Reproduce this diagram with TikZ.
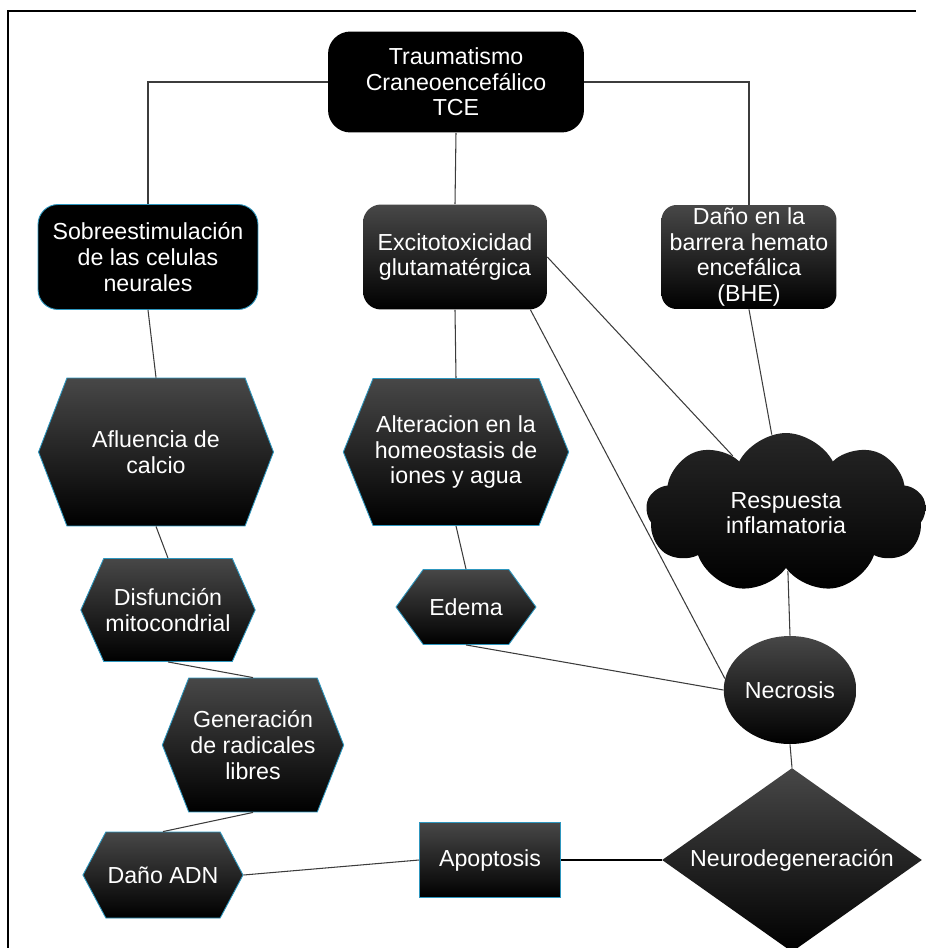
\documentclass[tikz,border=0pt]{standalone}
\usepackage{fontspec}
\setsansfont{Liberation Sans}
\usetikzlibrary{shapes.geometric,shapes.symbols}
\definecolor{edgeblue}{RGB}{45,150,190}
\definecolor{wire}{RGB}{60,60,60}

\begin{document}
\begin{tikzpicture}[
  x=0.02cm, y=-0.02cm,
  txt/.style={text=white, align=center, inner sep=1pt,
              font=\sffamily\fontsize{13.2}{14.6}\selectfont},
  blackbox/.style={txt, rectangle, rounded corners=0.45cm, fill=black},
  shadebox/.style={txt, rectangle, rounded corners=0.36cm,
                   top color=black!72, bottom color=black},
  hexa/.style={txt, signal, signal to=east and west, signal pointer angle=#1,
               draw=edgeblue, line width=0.5pt, top color=black!72, bottom color=black},
  link/.style={draw=wire, line width=0.6pt}
]
\useasboundingbox (0,0) rectangle (926,948);
\draw[line width=0.8pt] (8,948) -- (8,11) -- (916,11);

\node[blackbox, minimum width=5.12cm, minimum height=2.02cm] (tce) at (456,82) {Traumatismo\\Craneoencefálico\\TCE};
\node[blackbox, rounded corners=0.4cm, draw=edgeblue, line width=0.5pt,
      minimum width=4.4cm, minimum height=2.1cm] (sobre) at (148,257) {Sobreestimulación\\de las celulas\\neurales};
\node[shadebox, minimum width=3.68cm, minimum height=2.1cm] (excito) at (455,257) {Excitotoxicidad\\glutamatérgica};
\node[shadebox, rounded corners=0.3cm, minimum width=3.5cm, minimum height=2.08cm] (bhe) at (749,257) {Daño en la\\barrera hemato\\encefálica\\(BHE)};
\node[hexa=138, minimum width=4.7cm, minimum height=2.96cm] (calcio) at (156,452) {Afluencia de\\calcio};
\node[hexa=136, minimum width=4.22cm, minimum height=2.94cm] (iones) at (456,452) {Alteracion en la\\homeostasis de\\iones y agua};
\node[hexa=132, minimum width=3.22cm, minimum height=2.06cm] (mito) at (168,610) {Disfunción\\mitocondrial};
\node[hexa=108, minimum width=2.8cm, minimum height=1.5cm] (edema) at (466,607) {Edema};
\node[hexa=137, minimum width=3.24cm, minimum height=2.68cm] (radicales) at (253,745) {Generación\\de radicales\\libres};
\node[hexa=124, minimum width=3.04cm, minimum height=1.72cm] (adn) at (163,875) {Daño ADN};
\node[txt, cloud, cloud puffs=9, cloud puff arc=125, aspect=1.75,
      top color=black!85, bottom color=black,
      minimum width=5.6cm, minimum height=3.2cm] (infla) at (786,513) {Respuesta\\inflamatoria};
\node[txt, ellipse, top color=black!72, bottom color=black,
      minimum width=2.36cm, minimum height=2.16cm] (necro) at (790,690) {Necrosis};
\node[txt, rectangle, draw=edgeblue, line width=0.5pt, top color=black!72, bottom color=black,
      minimum width=2.82cm, minimum height=1.5cm] (apop) at (490,860) {Apoptosis};
\node[txt, diamond, aspect=1.41, top color=black!72, bottom color=black,
      minimum width=5.2cm, minimum height=3.68cm] (neuro) at (792,860) {Neurodegeneración};

\draw[link] (tce.west) -| (sobre.north);
\draw[link] (tce.east) -| (bhe.north);
\draw[link] (tce.south) -- (excito.north);
\draw[link] (sobre.south) -- (calcio.north);
\draw[link] (calcio.south) -- (mito.north);
\draw[link] (mito.south) -- (radicales.north);
\draw[link] (radicales.south) -- (adn.north);
\draw[link] (adn.east) -- (apop.west);
\draw[link, draw=black, line width=1.6pt] (apop.east) -- (neuro.west);
\draw[link] (excito.south) -- (iones.north);
\draw[link] (iones.south) -- (edema.north);
\draw[link] (edema.south) -- (necro.west);
\draw[link] (excito.-35) -- (necro.170);
\draw[link] (excito.east) -- (infla);
\draw[link] (bhe.south) -- (infla);
\draw[link] (infla) -- (necro.north);
\draw[link] (necro.south) -- (neuro.north);
\end{tikzpicture}
\end{document}
